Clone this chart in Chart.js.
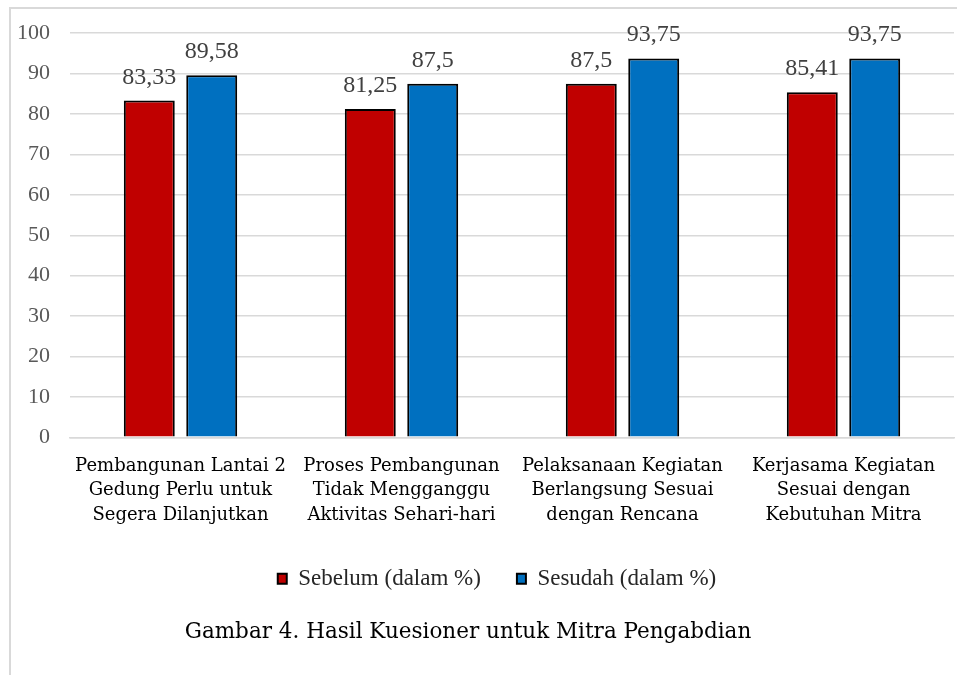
<!DOCTYPE html>
<html>
<head>
<meta charset="utf-8">
<script src="https://cdn.jsdelivr.net/npm/chart.js@4.4.1/dist/chart.umd.min.js"></script>
<style>
  body { margin: 0; background: #fff; }
  canvas { display: block; }
</style>
</head>
<body>
<canvas id="chart" width="957" height="675"></canvas>
<script>
  const categories = [
    ['Pembangunan Lantai 2', 'Gedung Perlu untuk', 'Segera Dilanjutkan'],
    ['Proses Pembangunan', 'Tidak Mengganggu', 'Aktivitas Sehari-hari'],
    ['Pelaksanaan Kegiatan', 'Berlangsung Sesuai', 'dengan Rencana'],
    ['Kerjasama Kegiatan', 'Sesuai dengan', 'Kebutuhan Mitra'],
  ];
  const sebelum = [83.33, 81.25, 87.5, 85.41];
  const sesudah = [89.58, 87.5, 93.75, 93.75];
  const seriesNames = ['Sebelum (dalam %)', 'Sesudah (dalam %)'];
  const caption = 'Gambar 4. Hasil Kuesioner untuk Mitra Pengabdian';

  // frame line of the figure (left + top edge)
  const framePlugin = {
    id: 'frame',
    beforeDraw(chart) {
      const ctx = chart.ctx;
      ctx.save();
      ctx.strokeStyle = '#d9d9d9';
      ctx.lineWidth = 2;
      ctx.beginPath();
      ctx.moveTo(10, 700);
      ctx.lineTo(10, 8);
      ctx.lineTo(960, 8);
      ctx.stroke();
      ctx.restore();
    },
  };

  // legend and caption sit a bit off the chart centre in the original
  const nudgeBoxes = {
    id: 'nudgeBoxes',
    afterLayout(chart) {
      if (chart.legend) {
        chart.legend.left -= 15;
        chart.legend.right -= 15;
      }
      if (chart.titleBlock) {
        chart.titleBlock.left -= 9;
        chart.titleBlock.right -= 9;
      }
    },
  };

  // value labels above the bars, with comma decimals
  const valueLabels = {
    id: 'valueLabels',
    afterDatasetsDraw(chart) {
      const ctx = chart.ctx;
      ctx.save();
      ctx.font = '24px "Liberation Serif"';
      ctx.fillStyle = '#404040';
      ctx.textAlign = 'center';
      ctx.textBaseline = 'alphabetic';
      chart.data.datasets.forEach((ds, i) => {
        chart.getDatasetMeta(i).data.forEach((bar, j) => {
          const txt = String(ds.data[j]).replace('.', ',');
          ctx.fillText(txt, bar.x, bar.y - 17);
        });
      });
      ctx.restore();
    },
  };

  new Chart(document.getElementById('chart'), {
    type: 'bar',
    data: {
      labels: categories,
      datasets: [
        {
          label: seriesNames[0],
          data: sebelum,
          backgroundColor: '#c00000',
          borderColor: '#000000',
          borderWidth: 2,
        },
        {
          label: seriesNames[1],
          data: sesudah,
          backgroundColor: '#0070c0',
          borderColor: '#000000',
          borderWidth: 2,
        },
      ],
    },
    options: {
      responsive: false,
      animation: false,
      categoryPercentage: 0.565,
      barPercentage: 0.816,
      layout: { padding: { top: 23, right: 3, left: 0, bottom: 10 } },
      scales: {
        x: {
          afterFit(scale) { scale.height -= 5; },
          grid: { display: false },
          border: { color: '#d9d9d9', width: 1.5 },
          ticks: {
            color: '#000000',
            font: { family: '"DejaVu Serif"', size: 18, lineHeight: 1.35 },
            padding: 9,
            maxRotation: 0,
            autoSkip: false,
          },
        },
        y: {
          min: 0,
          max: 100,
          afterFit(scale) { scale.width = 70; },
          grid: { color: '#d9d9d9', lineWidth: 1.5, drawTicks: false },
          border: { display: false },
          ticks: {
            stepSize: 10,
            color: '#595959',
            font: { family: '"Liberation Serif"', size: 22 },
            padding: 20,
          },
        },
      },
      plugins: {
        legend: {
          position: 'bottom',
          fullSize: false,
          labels: {
            boxWidth: 9,
            boxHeight: 10,
            padding: 36,
            color: '#262626',
            font: { family: '"Liberation Serif"', size: 23 },
          },
        },
        title: {
          display: true,
          position: 'bottom',
          text: caption,
          color: '#000000',
          font: { family: '"DejaVu Serif"', size: 21.5, weight: 'normal' },
          padding: { top: 19, bottom: 20 },
        },
        tooltip: { enabled: false },
      },
    },
    plugins: [framePlugin, nudgeBoxes, valueLabels],
  });
</script>
</body>
</html>
